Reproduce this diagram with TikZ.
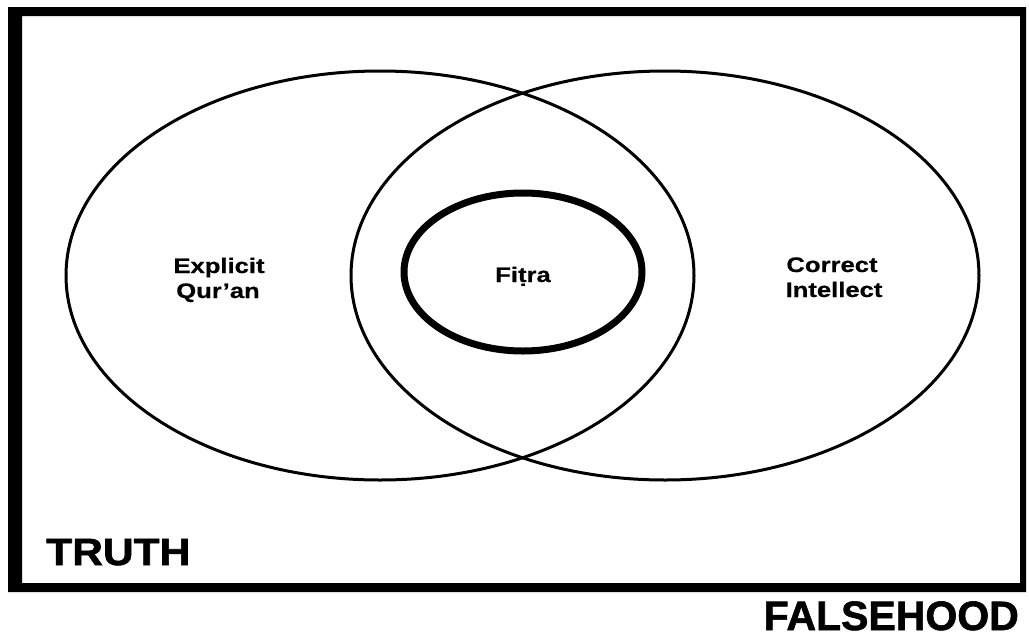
\documentclass[tikz,border=0pt]{standalone}
\usepackage{fontspec}
\setmainfont{Liberation Sans}
\newfontfamily\lab[FakeStretch=1.22,FakeBold=0.6]{Liberation Sans}
\newfontfamily\truthfont[FakeStretch=1.12,FakeBold=1.5]{Liberation Sans}
\newfontfamily\falsefont[FakeStretch=1.0,FakeBold=1.5]{Liberation Sans}
\usetikzlibrary{shapes.geometric}
\newcommand\tdotbelow{\iffontchar\font"1E6D \char"1E6D \else\leavevmode\setbox0\hbox{t}\rlap{\hbox to\wd0{\hss\raisebox{-0.32em}{.}\hss}}t\fi}
\tikzset{
  venn/.style={ellipse, draw, line width=3pt, inner sep=0pt, minimum width=628pt, minimum height=409pt},
  core/.style={ellipse, draw, line width=7pt, inner sep=0pt, minimum width=238pt, minimum height=158pt},
  lbl/.style={font=\lab\bfseries\fontsize{21}{25}\selectfont, inner sep=0pt, anchor=base},
  bigl/.style={font=\truthfont\bfseries\fontsize{38}{44}\selectfont, inner sep=0pt},
  bigfl/.style={font=\falsefont\bfseries\fontsize{41}{48}\selectfont, inner sep=0pt}
}
\begin{document}
\begin{tikzpicture}[x=1pt,y=-1pt]
\useasboundingbox (0,0) rectangle (1029,635);
\fill[white] (0,0) rectangle (1029,635);
% frame (TRUTH region)
\fill[black, even odd rule] (8,7) rectangle (1026,592) (22,16) rectangle (1020,583);
% ellipses
\node[venn] (quran) at (380,275.5) {};
\node[venn] (intellect) at (665,275.5) {};
\node[core] (fitra) at (523,272) {};
% labels
\node[lbl] (ex1) at (219,273) {Explicit};
\node[lbl] (ex2) at (218,298) {Qur’an};
\node[lbl] (ft) at (523,282) {Fi\tdotbelow ra};
\node[lbl] (ci1) at (832,272) {Correct};
\node[lbl] (ci2) at (834,297) {Intellect};
\node[bigl, anchor=base west] (truth) at (46,565) {TRUTH};
\node[bigfl, anchor=base east] (false) at (1019,630) {FALSEHOOD};
\end{tikzpicture}
\end{document}
